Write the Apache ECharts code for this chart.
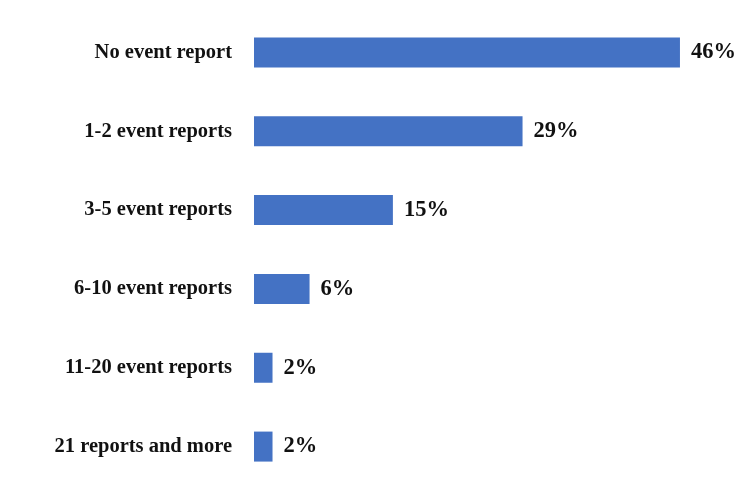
<!DOCTYPE html>
<html><head><meta charset="utf-8">
<script src="https://cdn.jsdelivr.net/npm/echarts@6/dist/echarts.min.js"></script>
<style>html,body{margin:0;padding:0;background:#fff}#c{width:750px;height:491px}</style>
</head><body><div id="c"></div>
<script>
const categories = ["No event report","1-2 event reports","3-5 event reports","6-10 event reports","11-20 event reports","21 reports and more"];
const values = [46, 29, 15, 6, 2, 2];

const chart = echarts.init(document.getElementById('c'), null, {renderer:'canvas'});
const font = '"Liberation Serif","Times New Roman",serif';
chart.setOption({
  animation:false,
  grid:{left:254, right:33, top:13, bottom:5, containLabel:false},
  xAxis:{type:'value', min:0, max:50, show:false},
  yAxis:{type:'category', data:categories, inverse:true,
    axisLine:{show:false}, axisTick:{show:false},
    axisLabel:{margin:22, fontFamily:font, fontWeight:'bold', fontSize:20.5, color:'#111'}},
  series:[{type:'bar', data:values, barWidth:30,
    itemStyle:{color:'#4472C4'},
    label:{show:true, position:'right', distance:11, formatter:'{c}%',
      fontFamily:font, fontWeight:'bold', fontSize:22.5, color:'#111'}}]
});
</script></body></html>
